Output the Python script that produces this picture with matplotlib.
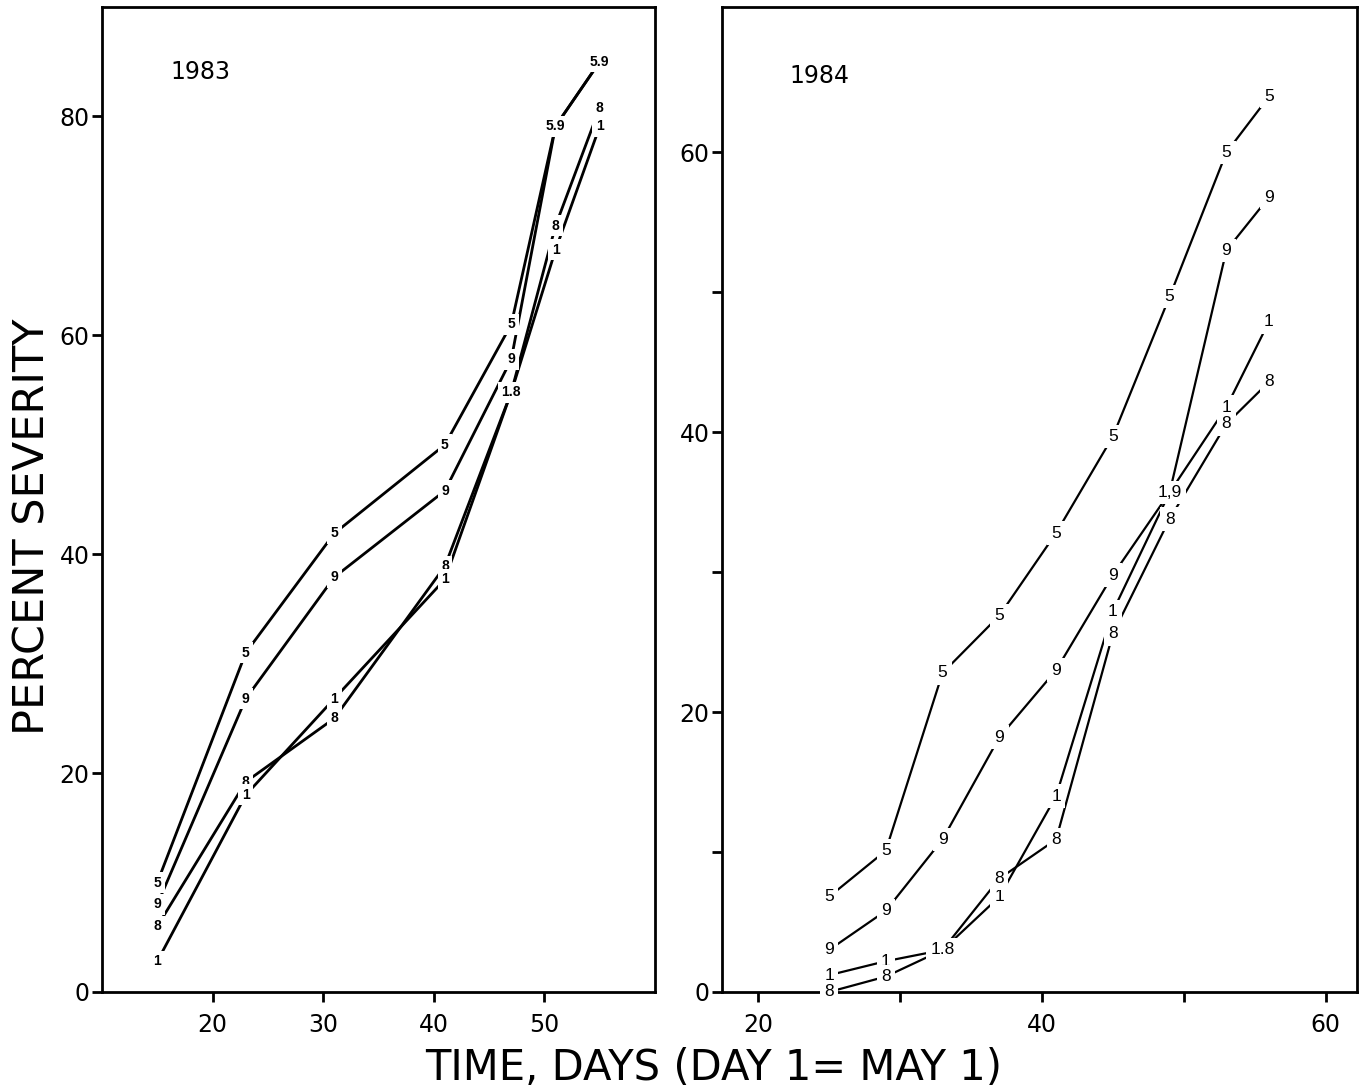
import matplotlib
matplotlib.use("Agg")
import matplotlib.pyplot as plt

plt.rcParams['font.family'] = ['Liberation Sans', 'DejaVu Sans']

# ---- 1983 data ----
days_1983 = [15, 23, 31, 41, 47, 51, 55]
sev_1983 = {
    "5": [10.0, 31.0, 41.9, 50.0, 61.0, 79.1, 85.0],
    "9": [8.0, 26.8, 37.9, 45.8, 57.8, 79.1, 85.0],
    "8": [6.0, 19.2, 25.0, 38.9, 54.8, 70.0, 80.8],
    "1": [2.8, 18.0, 26.8, 37.7, 54.8, 67.8, 79.1],
}
# ---- 1984 data ----
days_1984 = [25, 29, 33, 37, 41, 45, 49, 53, 56]
sev_1984 = {
    "5": [6.8, 10.1, 22.8, 26.9, 32.8, 39.7, 49.7, 60.0, 64.0],
    "9": [3.0, 5.8, 10.9, 18.2, 23.0, 29.8, 35.7, 53.0, 56.8],
    "1": [1.2, 2.2, 3.0, 6.8, 14.0, 27.2, 35.7, 41.8, 47.9],
    "8": [0.0, 1.1, 3.0, 8.1, 10.9, 25.6, 33.8, 40.6, 43.6],
}
xticks_1983 = [20, 30, 40, 50]
yticks_1983 = [0, 20, 40, 60, 80]
xticks_1984 = [20, 30, 40, 50, 60]
xticklabels_1984 = ["20", "", "40", "", "60"]
yticks_1984 = [0, 10, 20, 30, 40, 50, 60]
yticklabels_1984 = ["0", "", "20", "", "40", "", "60"]
merge_sep_1984 = {49: ","}

WIDE = ['DejaVu Sans']

fig = plt.figure(figsize=(13.69, 10.89), dpi=100)
ax1 = fig.add_axes([0.0745, 0.0891, 0.404, 0.9045])
ax2 = fig.add_axes([0.5274, 0.0891, 0.4638, 0.9045])


def draw(ax, days, sev, lw, fs, weight, seps):
    for name, vals in sev.items():
        ax.plot(days, vals, color="black", lw=lw, zorder=2, solid_capstyle="butt")
    for i, d in enumerate(days):
        groups = {}
        for name, vals in sev.items():
            groups.setdefault(vals[i], []).append(name)
        for v, names in groups.items():
            sep = seps.get(d, ".")
            txt = sep.join(sorted(names))
            ax.text(d, v, txt, ha="center", va="center", fontsize=fs,
                    fontweight=weight, zorder=3, clip_on=False,
                    bbox=dict(boxstyle="square,pad=0.25", fc="white", ec="none"))


draw(ax1, days_1983, sev_1983, 2.0, 10, "bold", {})
draw(ax2, days_1984, sev_1984, 1.6, 12.5, "normal", merge_sep_1984)

ax1.set_xlim(10, 60)
ax1.set_ylim(0, 90)
ax1.set_xticks(xticks_1983)
ax1.set_yticks(yticks_1983)
ax2.set_xlim(17.46, 62.2)
ax2.set_ylim(0, 70.4)
ax2.set_xticks(xticks_1984)
ax2.set_xticklabels(xticklabels_1984)
ax2.set_yticks(yticks_1984)
ax2.set_yticklabels(yticklabels_1984)

for ax in (ax1, ax2):
    for s in ax.spines.values():
        s.set_linewidth(2)
        s.set_color("black")
    ax.tick_params(direction="out", length=7, width=2, labelsize=17, pad=2)
    ax.tick_params(axis="x", pad=8)
    for lab in ax.get_xticklabels() + ax.get_yticklabels():
        lab.set_family(WIDE)

ax1.text(18.9, 84.1, "1983", ha="center", va="center", fontsize=17,
         family=WIDE)
ax2.text(24.3, 65.5, "1984", ha="center", va="center", fontsize=17,
         family=WIDE)

fig.text(0.024, 0.516, "PERCENT SEVERITY", rotation=90, ha="center",
         va="center", fontsize=31, family=WIDE)
fig.text(0.521, 0.019, "TIME, DAYS (DAY 1= MAY 1)", ha="center",
         va="center", fontsize=30, family=WIDE)

fig.savefig("out.png", dpi=100, facecolor="white")
